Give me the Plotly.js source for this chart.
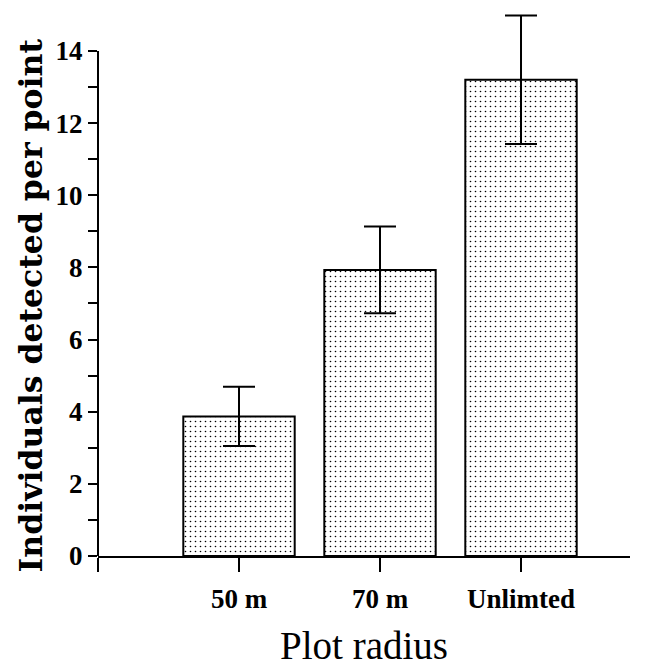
<!DOCTYPE html>
<html>
<head>
<meta charset="utf-8">
<script src="https://cdn.plot.ly/plotly-3.0.1.min.js"></script>
<style>html,body{margin:0;padding:0;background:#fff;}#chart{width:660px;height:667px;}</style>
</head>
<body>
<div id="chart"></div>
<script>
const categories = ['50 m', '70 m', 'Unlimted'];
const values = [3.87, 7.93, 13.2];
const errors = [0.82, 1.2, 1.78];
const yTickVals = [0, 2, 4, 6, 8, 10, 12, 14];
const yMinorTickVals = [1, 3, 5, 7, 9, 11, 13];
const yTitle = 'Individuals detected per point';
const xTitle = 'Plot radius';

const xPos = categories.map((c, i) => i);

const trace = {
  type: 'bar',
  x: xPos,
  y: values,
  width: 0.79,
  marker: {
    color: '#ffffff',
    line: {color: '#000', width: 2},
    pattern: {shape: '.', fgcolor: '#000', bgcolor: '#fff', size: 5, solidity: 0.08}
  },
  error_y: {type: 'data', array: errors, visible: true, color: '#000', thickness: 2, width: 16},
  hoverinfo: 'none'
};

const layout = {
  width: 660, height: 667,
  margin: {l: 98, r: 30, t: 4, b: 111},
  paper_bgcolor: '#fff', plot_bgcolor: '#fff',
  showlegend: false,
  xaxis: {
    range: [-1, 2.773],
    tickmode: 'array',
    tickvals: [-1].concat(xPos),
    ticktext: [''].concat(categories),
    ticks: 'outside', ticklen: 14, tickwidth: 2, tickcolor: '#000',
    ticklabelstandoff: 4,
    showline: true, linecolor: '#000', linewidth: 2,
    showgrid: false, zeroline: false,
    tickfont: {family: 'Liberation Serif', size: 27, color: '#000', weight: 'bold'},
    title: {text: xTitle, font: {family: 'Liberation Serif', size: 39, color: '#000'}, standoff: 20}
  },
  yaxis: {
    range: [0, 15.3],
    tickmode: 'array',
    tickvals: yTickVals,
    ticks: 'outside', ticklen: 9, tickwidth: 2, tickcolor: '#000',
    minor: {tickmode: 'array', tickvals: yMinorTickVals, ticks: 'outside', ticklen: 9, tickwidth: 2, tickcolor: '#000', showgrid: false},
    showline: false,
    showgrid: false, zeroline: false,
    tickfont: {family: 'Liberation Serif', size: 27, color: '#000', weight: 'bold'}
  },
  shapes: [
    {type: 'line', xref: 'paper', yref: 'y', x0: 0, x1: 0, y0: 0, y1: 14, line: {color: '#000', width: 2}}
  ],
  annotations: [
    {text: yTitle, xref: 'paper', yref: 'y', x: 0, y: 7, xshift: -68, yshift: -2,
     xanchor: 'center', yanchor: 'middle', textangle: -90, showarrow: false,
     font: {family: 'DejaVu Serif', size: 31.5, color: '#000', weight: 'bold'}}
  ]
};

Plotly.newPlot('chart', [trace], layout, {staticPlot: true, displayModeBar: false});
</script>
</body>
</html>
